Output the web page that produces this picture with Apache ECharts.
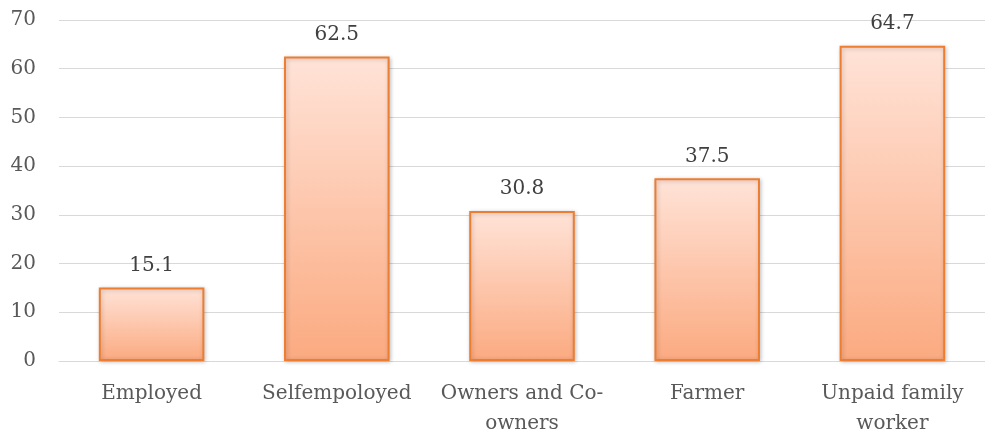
<!DOCTYPE html>
<html>
<head>
<meta charset="utf-8">
<script src="https://cdn.jsdelivr.net/npm/echarts@6/dist/echarts.min.js"></script>
<style>
  html, body { margin: 0; padding: 0; background: #fff; }
  #chart { width: 985px; height: 432px; }
</style>
</head>
<body>
<div id="chart"></div>
<script>
// Share (%) by employment status
const categories = ['Employed', 'Selfempoloyed', 'Owners and Co-\nowners', 'Farmer', 'Unpaid family\nworker'];
const values = [15.1, 62.5, 30.8, 37.5, 64.7];
const yTicks = { min: 0, max: 70, interval: 10 };

const FONT = '"DejaVu Serif", "Liberation Serif", serif';

const chart = echarts.init(document.getElementById('chart'));
chart.setOption({
  animation: false,
  grid: { left: 59, right: 0, top: 20, bottom: 71, outerBoundsMode: 'none', containLabel: false },
  xAxis: {
    type: 'category',
    data: categories,
    axisTick: { show: false },
    axisLine: { lineStyle: { color: '#D9D9D9', width: 1 } },
    axisLabel: {
      color: '#595959',
      fontFamily: FONT,
      fontSize: 20,
      lineHeight: 30,
      margin: 18,
      interval: 0
    }
  },
  yAxis: {
    type: 'value',
    min: yTicks.min,
    max: yTicks.max,
    interval: yTicks.interval,
    axisLine: { show: false },
    axisTick: { show: false },
    splitLine: { lineStyle: { color: '#D9D9D9', width: 1 } },
    axisLabel: {
      color: '#595959',
      fontFamily: FONT,
      fontSize: 20,
      margin: 23
    }
  },
  series: [{
    type: 'bar',
    data: values,
    barWidth: '57%',
    itemStyle: {
      color: new echarts.graphic.LinearGradient(0, 0, 0, 1, [
        { offset: 0, color: '#FFE3D8' },
        { offset: 1, color: '#FBAA80' }
      ]),
      borderColor: '#ED7D31',
      borderWidth: 2,
      shadowColor: 'rgba(0,0,0,0.22)',
      shadowBlur: 4,
      shadowOffsetX: 1,
      shadowOffsetY: 1
    },
    label: {
      show: true,
      position: 'top',
      distance: 12,
      color: '#404040',
      fontFamily: FONT,
      fontSize: 20
    }
  }]
});
</script>
</body>
</html>
